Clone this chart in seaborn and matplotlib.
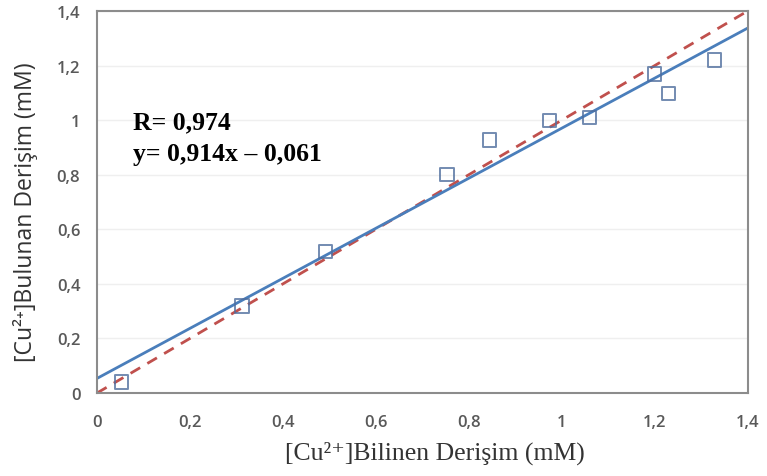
import matplotlib
matplotlib.use("Agg")
import matplotlib.pyplot as plt
import seaborn as sns
import pandas as pd
from matplotlib.ticker import FuncFormatter, MultipleLocator

# data
known = [0.052, 0.312, 0.492, 0.753, 0.845, 0.974, 1.060, 1.200, 1.230, 1.329]
found = [0.040, 0.319, 0.517, 0.802, 0.927, 1.000, 1.008, 1.169, 1.096, 1.220]
ref_line = [0.0, 1.4]
r_text = "R= 0,974"
eq_text = "y= 0,914x \u2013 0,061"

df = pd.DataFrame({"known": known, "found": found})

sns.set_style("white")
plt.rcParams["font.family"] = ["Liberation Serif", "DejaVu Serif"]

fig = plt.figure(figsize=(7.67, 4.77), dpi=100)
ax = fig.add_axes([0.1265, 0.174, 0.8485, 0.801])
ax.set_xlim(0, 1.4)
ax.set_ylim(0, 1.4)

ax.plot(ref_line, ref_line, color="#c0504d", lw=2.0, dashes=(4, 3), zorder=2)

sns.regplot(data=df, x="known", y="found", ax=ax, ci=None, truncate=False,
            marker="s",
            scatter_kws=dict(s=90, facecolors="none", edgecolors="#4f6e9e",
                             linewidths=1.4, zorder=3),
            line_kws=dict(color="#4a7ebb", lw=2.0, zorder=2))

ax.set_xlim(0, 1.4)
ax.set_ylim(0, 1.4)
ax.xaxis.set_major_locator(MultipleLocator(0.2))
ax.yaxis.set_major_locator(MultipleLocator(0.2))

def fmt(v, pos):
    s = f"{v:.1f}".rstrip("0").rstrip(".")
    return s.replace(".", ",")

ax.xaxis.set_major_formatter(FuncFormatter(fmt))
ax.yaxis.set_major_formatter(FuncFormatter(fmt))
ax.tick_params(axis="both", length=0, labelsize=12, labelcolor="#595959")
ax.tick_params(axis="x", pad=15)
ax.tick_params(axis="y", pad=12)
for lab in ax.get_xticklabels() + ax.get_yticklabels():
    lab.set_fontfamily(["Open Sans", "DejaVu Sans"])
    lab.set_fontweight("semibold")

ax.grid(True, axis="y", color="#efefef", lw=1)
for sp in ax.spines.values():
    sp.set_color("#8c8c8c")
    sp.set_linewidth(1.5)

ax.set_xlabel("[Cu\u00b2\u207a]Bilinen Deri\u015fim (mM)", fontsize=18.5,
              color="#333333")
ax.set_ylabel("[Cu\u00b2\u207a]Bulunan Deri\u015fim (mM)", fontsize=16.6,
              color="#333333", family=["Open Sans", "DejaVu Sans"])
ax.xaxis.set_label_coords(0.519, -0.125)
ax.yaxis.set_label_coords(-0.09, 0.476)

ax.text(0.055, 0.709, r_text, transform=ax.transAxes, fontsize=18.5,
        fontweight="bold", color="black", va="center")
ax.text(0.055, 0.626, eq_text, transform=ax.transAxes, fontsize=18.5,
        fontweight="bold", color="black", va="center")

fig.savefig("out.png", dpi=100)
